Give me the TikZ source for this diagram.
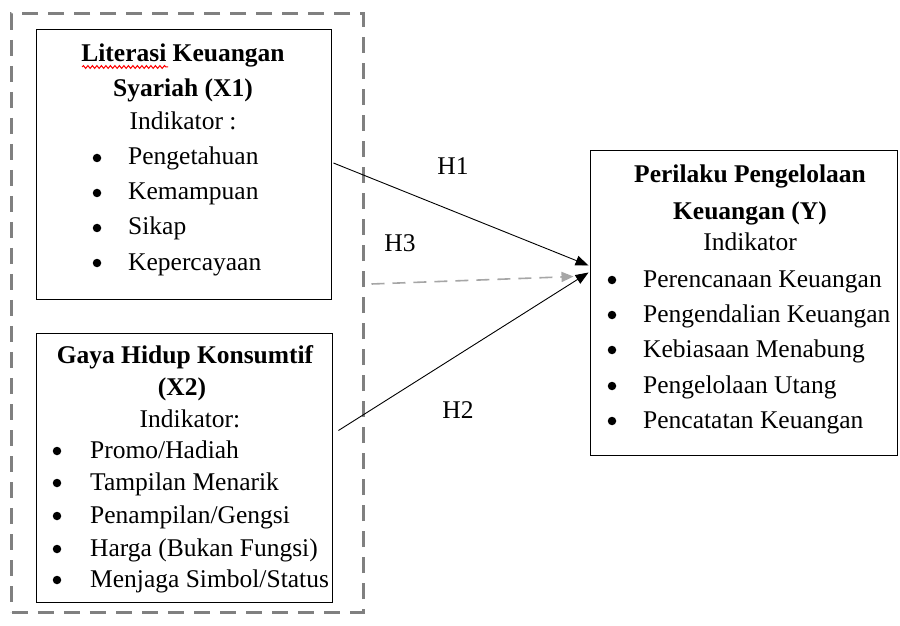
\documentclass[tikz,border=0pt]{standalone}
\usepackage{fontspec}
\setmainfont{Liberation Serif}
\usetikzlibrary{arrows.meta,decorations.pathmorphing}
\definecolor{outergray}{HTML}{808080}
\definecolor{h3gray}{HTML}{A6A6A6}
\begin{document}
\begin{tikzpicture}[x=1bp,y=-1bp,
  box/.style={draw=black, line width=0.9bp, rectangle, inner sep=0pt},
  txt/.style={anchor=base west, inner sep=0pt, font=\fontsize{25.5bp}{30bp}\selectfont},
  ctxt/.style={anchor=base, inner sep=0pt, font=\fontsize{25.5bp}{30bp}\selectfont},
  btxt/.style={anchor=base, inner sep=0pt, font=\fontsize{25.5bp}{30bp}\selectfont\bfseries},
  bul/.style={circle, fill=black, inner sep=0pt, minimum size=8.5bp},
  conn/.style={line width=0.9bp, -{Triangle[length=13bp,width=10bp]}},
  lab/.style={anchor=base, inner sep=0pt, font=\fontsize{25.5bp}{30bp}\selectfont}]
\useasboundingbox[fill=white] (0,0) rectangle (900,626);

% outer dashed group
\node[draw=outergray, line width=3bp, dash pattern=on 16bp off 10bp, rectangle,
  minimum width=351bp, minimum height=598bp, inner sep=0pt] (grp) at (187.5,313) {};

% boxes
\node[box, minimum width=295bp, minimum height=270bp] (x1) at (183.5,164) {};
\node[box, minimum width=296bp, minimum height=269bp] (x2) at (184,467.5) {};
\node[box, minimum width=307bp, minimum height=305bp] (y) at (743.5,302.5) {};

% X1 text
\node[btxt] (x1t1) at (183,62) {Literasi Keuangan};
\node[btxt] (x1t2) at (183,97) {Syariah (X1)};
\node[ctxt] (x1t3) at (183,130) {Indikator :};
\node[bul] (x1b1) at (97,158) {};
\node[txt] (x1i1) at (128,165) {Pengetahuan};
\node[bul] (x1b2) at (97,193) {};
\node[txt] (x1i2) at (128,200) {Kemampuan};
\node[bul] (x1b3) at (97,228) {};
\node[txt] (x1i3) at (128,235) {Sikap};
\node[bul] (x1b4) at (97,263) {};
\node[txt] (x1i4) at (128,270) {Kepercayaan};
\draw[red, line width=1bp, decorate, decoration={snake, amplitude=1.4bp, segment length=4.5bp}] (82,67) -- (168,67);

% X2 text
\node[btxt] (x2t1) at (185,363) {Gaya Hidup Konsumtif};
\node[btxt] (x2t2) at (182,395) {(X2)};
\node[ctxt] (x2t3) at (190,427) {Indikator:};
\node[bul] (x2b1) at (57,451) {};
\node[txt] (x2i1) at (90,458) {Promo/Hadiah};
\node[bul] (x2b2) at (57,483) {};
\node[txt] (x2i2) at (90,490) {Tampilan Menarik};
\node[bul] (x2b3) at (57,516) {};
\node[txt] (x2i3) at (90,523) {Penampilan/Gengsi};
\node[bul] (x2b4) at (57,549) {};
\node[txt] (x2i4) at (90,556) {Harga (Bukan Fungsi)};
\node[bul] (x2b5) at (57,580) {};
\node[txt] (x2i5) at (90,587) {Menjaga Simbol/Status};

% Y text
\node[btxt] (yt1) at (750,183) {Perilaku Pengelolaan};
\node[btxt] (yt2) at (750,220) {Keuangan (Y)};
\node[ctxt] (yt3) at (750,251) {Indikator};
\node[bul] (yb1) at (612,280) {};
\node[txt] (yi1) at (643,287) {Perencanaan Keuangan};
\node[bul] (yb2) at (612,315) {};
\node[txt] (yi2) at (643,322) {Pengendalian Keuangan};
\node[bul] (yb3) at (612,350) {};
\node[txt] (yi3) at (643,357) {Kebiasaan Menabung};
\node[bul] (yb4) at (612,386) {};
\node[txt] (yi4) at (643,393) {Pengelolaan Utang};
\node[bul] (yb5) at (612,421) {};
\node[txt] (yi5) at (643,428) {Pencatatan Keuangan};

% connectors
\draw[conn] ([shift={(2,-1)}]x1.east) -- ([shift={(-1,-37)}]y.west);
\draw[conn] ([shift={(6,-37)}]x2.east) -- ([shift={(-1,-30)}]y.west);
\draw[line width=1.6bp, h3gray, dash pattern=on 13bp off 8bp, -{Triangle[length=12bp,width=10bp]}]
  ([shift={(7,-29)}]grp.east) -- ([shift={(-16,-26)}]y.west);

% labels
\node[lab] (h1) at (453,175) {H1};
\node[lab] (h3) at (400,252) {H3};
\node[lab] (h2) at (458,418) {H2};
\end{tikzpicture}
\end{document}
